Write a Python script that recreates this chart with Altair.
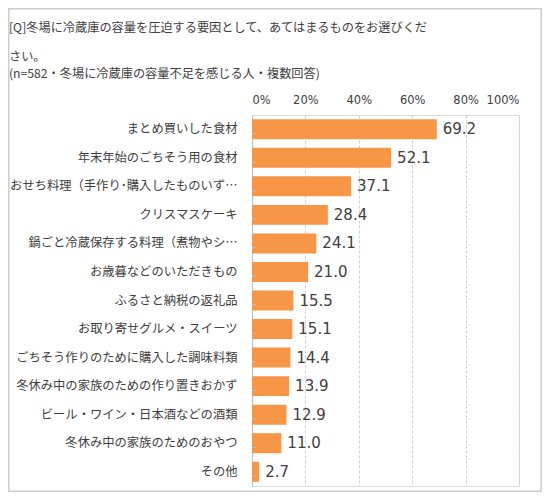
import altair as alt
import pandas as pd

# data
categories = [
    "まとめ買いした食材",
    "年末年始のごちそう用の食材",
    "おせち料理（手作り･購入したものいず…",
    "クリスマスケーキ",
    "鍋ごと冷蔵保存する料理（煮物やシ…",
    "お歳暮などのいただきもの",
    "ふるさと納税の返礼品",
    "お取り寄せグルメ・スイーツ",
    "ごちそう作りのために購入した調味料類",
    "冬休み中の家族のための作り置きおかず",
    "ビール・ワイン・日本酒などの酒類",
    "冬休み中の家族のためのおやつ",
    "その他",
]
values = [69.2, 52.1, 37.1, 28.4, 24.1, 21.0, 15.5, 15.1, 14.4, 13.9, 12.9, 11.0, 2.7]
x_ticks = [0, 20, 40, 60, 80, 100]

title_lines = [
    "[Q]冬場に冷蔵庫の容量を圧迫する要因として、あてはまるものをお選びくだ",
    "さい。",
]
subtitle = "(n=582・冬場に冷蔵庫の容量不足を感じる人・複数回答)"

JP_FONT = "Noto Sans CJK JP"
NUM_FONT = "DejaVu Sans"
TEXT = "#404040"
BAR = "#F79646"

W, H = 267, 371
PAD = {"left": 244, "top": 107, "right": 23, "bottom": 6}

df = pd.DataFrame({"item": categories, "pct": values})

y_enc = alt.Y(
    "item:N",
    sort=categories,
    scale=alt.Scale(paddingInner=0.3, paddingOuter=0.15),
    axis=alt.Axis(
        title=None,
        labelFont=JP_FONT,
        labelFontSize=12.3,
        labelColor=TEXT,
        labelPadding=15,
        labelLimit=300,
        ticks=False,
        domainColor="#bfbfbf",
        domainWidth=1,
    ),
)

bars = (
    alt.Chart(df)
    .mark_bar(color=BAR)
    .encode(
        x=alt.X(
            "pct:Q",
            scale=alt.Scale(domain=[0, 100], nice=False),
            axis=alt.Axis(
                orient="top",
                title=None,
                values=x_ticks,
                labelExpr="datum.value + '%'",
                labelFont=NUM_FONT,
                labelFontSize=11.5,
                labelColor=TEXT,
                labelPadding=10,
                ticks=False,
                domainColor="#d9d9d9",
                grid=True,
                gridColor="#d0d0d0",
                gridDash=[3, 2],
            ),
        ),
        y=y_enc,
    )
)

labels = (
    alt.Chart(df)
    .mark_text(align="left", baseline="middle", dx=6, font=NUM_FONT, fontSize=15, color=TEXT)
    .encode(x="pct:Q", y=alt.Y("item:N", sort=categories), text=alt.Text("pct:Q", format=".1f"))
)

# small tick marks between categories, pointing into the plot
ticks = (
    alt.Chart(df)
    .mark_rule(color="#bfbfbf")
    .encode(
        y=alt.Y("item:N", sort=categories),
        yOffset=alt.value(H / 13 / 2),
        x=alt.value(0),
        x2=alt.value(4),
    )
)

# outer frame of the picture
frame = (
    alt.Chart(pd.DataFrame({"k": [0]}))
    .mark_rect(fill="transparent", stroke="#cccccc", strokeWidth=1.5)
    .encode(
        x=alt.value(-PAD["left"] + 0.75),
        x2=alt.value(W + PAD["right"] - 0.75),
        y=alt.value(-PAD["top"] + 0.75),
        y2=alt.value(H + PAD["bottom"] - 0.75),
    )
)

chart = (
    alt.layer(bars, labels, ticks, frame)
    .properties(
        width=W,
        height=H,
        padding=PAD,
        autosize=alt.AutoSizeParams(type="none"),
        title=alt.TitleParams(
            text=title_lines,
            subtitle=subtitle,
            anchor="start",
            frame="group",
            align="left",
            dx=-243,
            font=JP_FONT,
            fontSize=12.2,
            fontWeight="normal",
            color=TEXT,
            lineHeight=29,
            subtitleFont=JP_FONT,
            subtitleFontSize=12.2,
            subtitleColor=TEXT,
            subtitlePadding=5,
            offset=-72,
        ),
    )
    .configure_view(strokeWidth=0)
    .configure(background="white")
)

chart.save("out.html", embed_options={"renderer": "svg", "actions": False})
